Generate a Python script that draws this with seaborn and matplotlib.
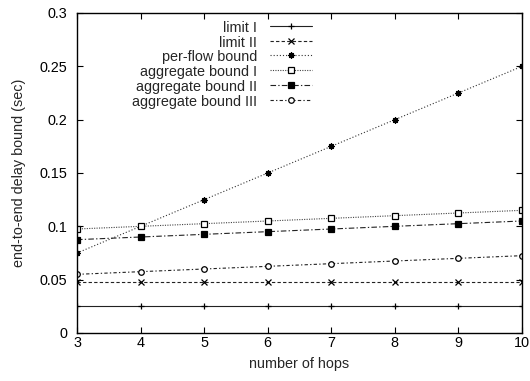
import matplotlib
matplotlib.use("Agg")
import matplotlib.pyplot as plt
import seaborn as sns
import pandas as pd
from matplotlib.ticker import FuncFormatter

hops = [3, 4, 5, 6, 7, 8, 9, 10]
limit_1 = [0.025, 0.025, 0.025, 0.025, 0.025, 0.025, 0.025, 0.025]
limit_2 = [0.0475, 0.0475, 0.0475, 0.0475, 0.0475, 0.0475, 0.0475, 0.0475]
per_flow = [0.075, 0.1, 0.125, 0.15, 0.175, 0.2, 0.225, 0.25]
aggregate_1 = [0.0975, 0.1, 0.1025, 0.105, 0.1075, 0.11, 0.1125, 0.115]
aggregate_2 = [0.0875, 0.09, 0.0925, 0.095, 0.0975, 0.1, 0.1025, 0.105]
aggregate_3 = [0.055, 0.0575, 0.06, 0.0625, 0.065, 0.0675, 0.07, 0.0725]

series_names = ["limit I", "limit II", "per-flow bound",
                "aggregate bound I", "aggregate bound II", "aggregate bound III"]
series_values = [limit_1, limit_2, per_flow, aggregate_1, aggregate_2, aggregate_3]

frames = []
for name, vals in zip(series_names, series_values):
    frames.append(pd.DataFrame({"hops": hops, "delay": vals, "series": name}))
df = pd.concat(frames, ignore_index=True)

FS = 10.4
sns.set_theme(style="ticks")
plt.rcParams["font.family"] = ["Liberation Sans", "DejaVu Sans"]
plt.rcParams["font.size"] = FS

styles = {
    "limit I": dict(ls="-", marker="+", ms=4.5, mfc="black", color="#222222"),
    "limit II": dict(ls=(0, (3, 2)), marker="x", ms=4, mfc="black", color="#222222"),
    "per-flow bound": dict(ls=(0, (1, 1.8)), marker=(8, 2, 0), ms=4.5, mfc="black", color="#333333"),
    "aggregate bound I": dict(ls=(0, (1, 1.2)), marker="s", ms=4, mfc="white", color="#444444"),
    "aggregate bound II": dict(ls=(0, (5, 2, 1.2, 2)), marker="s", ms=4, mfc="black", color="#222222"),
    "aggregate bound III": dict(ls=(0, (3, 2, 1.2, 2)), marker="o", ms=4, mfc="white", color="#222222"),
}

fig = plt.figure(figsize=(5.3, 3.81), dpi=100)
ax = fig.add_subplot(111)
fig.subplots_adjust(left=77/530, right=522/530, top=1-13/381, bottom=1-333/381)

for name in series_names:
    st = styles[name]
    sub = df[df["series"] == name]
    sns.lineplot(data=sub, x="hops", y="delay", ax=ax, label=name,
                 color=st["color"], linestyle=st["ls"], lw=0.8,
                 marker=st["marker"], markersize=st["ms"],
                 markerfacecolor=st["mfc"], markeredgecolor="black",
                 markeredgewidth=0.9)

ax.set_xlim(3, 10)
ax.set_ylim(0, 0.3)
ax.set_xticks(hops)
ax.set_yticks([0, 0.05, 0.1, 0.15, 0.2, 0.25, 0.3])
ax.yaxis.set_major_formatter(FuncFormatter(lambda v, p: f"{v:g}"))
ax.tick_params(direction="in", top=True, right=True, length=4, width=0.8,
               labelsize=FS, colors="black")
ax.tick_params(axis="y", pad=7)
ax.tick_params(axis="x", pad=2.5)
for sp in ax.spines.values():
    sp.set_linewidth(1.0)
    sp.set_color("black")
ax.set_xlabel("number of hops", fontsize=FS, labelpad=5)
ax.set_ylabel("end-to-end delay bound (sec)", fontsize=FS, labelpad=10)

leg = ax.legend(loc="upper right", bbox_to_anchor=(0.527, 0.975),
                markerfirst=False, frameon=False, handlelength=2.9,
                handletextpad=0.85, labelspacing=0.05, borderpad=0,
                borderaxespad=0, fontsize=FS)
# right-align labels inside the legend
leg._legend_box.align = "right"
for vp in leg._legend_box.get_children()[1].get_children():
    for hp in vp.get_children():
        hp.align = "right"

fig.savefig("out.png", dpi=100)
